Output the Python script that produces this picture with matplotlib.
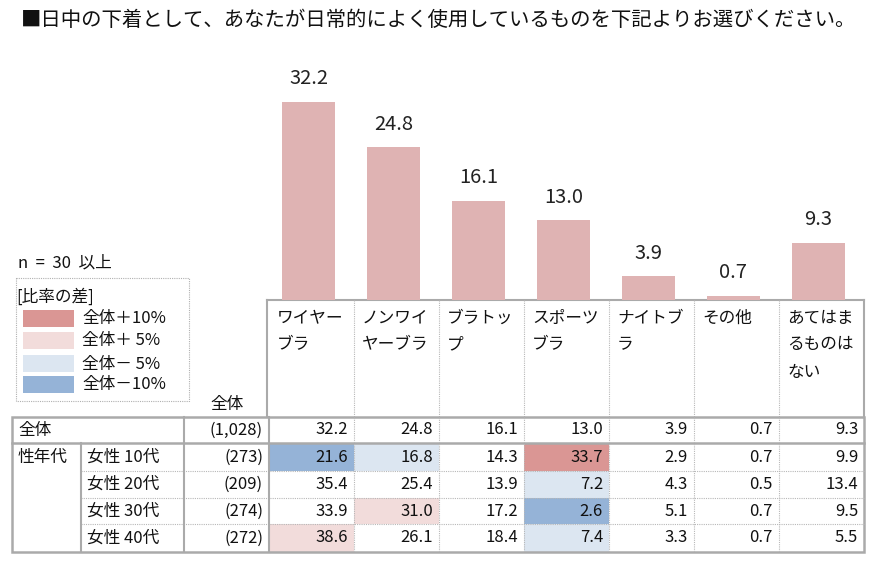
import matplotlib
matplotlib.use("Agg")
import matplotlib.pyplot as plt
from matplotlib.patches import Rectangle

plt.rcParams['font.family'] = ['Noto Sans CJK JP', 'DejaVu Sans']

# data
title = "■日中の下着として、あなたが日常的によく使用しているものを下記よりお選びください。"
categories = [["ワイヤー", "ブラ"], ["ノンワイ", "ヤーブラ"], ["ブラトッ", "プ"],
              ["スポーツ", "ブラ"], ["ナイトブ", "ラ"], ["その他"], ["あてはま", "るものは", "ない"]]
total = [32.2, 24.8, 16.1, 13.0, 3.9, 0.7, 9.3]
total_n = "(1,028)"
group_label = "性年代"
rows = ["女性 10代", "女性 20代", "女性 30代", "女性 40代"]
row_n = ["(273)", "(209)", "(274)", "(272)"]
f10 = [21.6, 16.8, 14.3, 33.7, 2.9, 0.7, 9.9]
f20 = [35.4, 25.4, 13.9, 7.2, 4.3, 0.5, 13.4]
f30 = [33.9, 31.0, 17.2, 2.6, 5.1, 0.7, 9.5]
f40 = [38.6, 26.1, 18.4, 7.4, 3.3, 0.7, 5.5]
row_values = [f10, f20, f30, f40]
legend_labels = ["全体＋10%", "全体＋ 5%", "全体－ 5%", "全体－10%"]
legend_colors = ["#da9694", "#f2dcdb", "#dce6f1", "#95b3d7"]

bar_color = "#dfb3b3"
grid_solid = "#aaaaaa"
grid_dot = "#b8b8b8"
txt = "#111111"


def diff_color(v, base):
    # colour a cell by how far it is from the total row
    d = v - base
    if d >= 10:
        return legend_colors[0]
    if d >= 5:
        return legend_colors[1]
    if d <= -10:
        return legend_colors[3]
    if d <= -5:
        return legend_colors[2]
    return None


W, H = 874, 580
fig = plt.figure(figsize=(W / 100, H / 100), dpi=100)

# overlay in pixel coords for the table
ov = fig.add_axes([0, 0, 1, 1])
ov.set_xlim(0, W)
ov.set_ylim(H, 0)
ov.axis("off")

# layout
x_left, x_sub, x_n, x_data = 12, 81, 184, 269
col_w = 85
ncol = len(total)
x_right = x_data + col_w * ncol
y_head = 300
y_top = 417
row_h = [26, 28, 27, 26, 28]
y_lines = [y_top]
for h in row_h:
    y_lines.append(y_lines[-1] + h)
fs = 12

# bar chart
px_per_unit = 6.15
ax_top = 60
bax = fig.add_axes([x_data / W, (H - y_head) / H, col_w * ncol / W, (y_head - ax_top) / H])
shift = 3 / col_w
bax.set_xlim(-0.5 + shift, ncol - 0.5 + shift)
bax.set_ylim(0, (y_head - ax_top) / px_per_unit)
bax.bar(range(ncol), total, width=0.62, color=bar_color)
for i, v in enumerate(total):
    bax.annotate(f"{v:.1f}", (i, v), xytext=(0, 9), textcoords="offset points",
                 ha="center", va="bottom", fontsize=14.5, color="#222222")
bax.axis("off")

# title
ov.text(21, 20, title, fontsize=14.7, va="center", ha="left", color=txt)

# header area
ov.plot([x_data - 2, x_right], [y_head, y_head], color=grid_solid, lw=1.5)
ov.plot([x_data - 2, x_data - 2], [y_head, y_top], color=grid_solid, lw=1.5)
ov.plot([x_right, x_right], [y_head, y_top], color=grid_solid, lw=1.5)
for j in range(1, ncol):
    xx = x_data + col_w * j
    ov.plot([xx, xx], [y_head, y_top], color=grid_dot, lw=0.8, ls=(0, (1, 1)))
for j, lines in enumerate(categories):
    for k, line in enumerate(lines):
        ov.text(x_data + col_w * j + 8, 318 + 27 * k, line, fontsize=fs,
                va="center", ha="left", color=txt)
ov.text(244, 404, "全体", fontsize=fs, ha="right", va="center", color=txt)

# highlighted cells
for r, vals in enumerate(row_values):
    for j, v in enumerate(vals):
        c = diff_color(v, total[j])
        if c:
            ov.add_patch(Rectangle((x_data + col_w * j, y_lines[r + 1]), col_w, row_h[r + 1],
                                   facecolor=c, edgecolor="none", zorder=0))

# table text
yc = [(y_lines[i] + y_lines[i + 1]) / 2 for i in range(len(row_h))]
ov.text(x_left + 6, yc[0], "全体", fontsize=fs, va="center", ha="left", color=txt)
ov.text(x_data - 6, yc[0], total_n, fontsize=fs, va="center", ha="right", color=txt)
for j, v in enumerate(total):
    ov.text(x_data + col_w * (j + 1) - 6, yc[0], f"{v:.1f}", fontsize=fs,
            va="center", ha="right", color=txt)
ov.text(x_left + 6, yc[1], group_label, fontsize=fs, va="center", ha="left", color=txt)
for r, (lab, n, vals) in enumerate(zip(rows, row_n, row_values)):
    y = yc[r + 1]
    ov.text(x_sub + 6, y, lab, fontsize=fs, va="center", ha="left", color=txt)
    ov.text(x_data - 6, y, n, fontsize=fs, va="center", ha="right", color=txt)
    for j, v in enumerate(vals):
        ov.text(x_data + col_w * (j + 1) - 6, y, f"{v:.1f}", fontsize=fs,
                va="center", ha="right", color=txt)

# table lines
y_bot = y_lines[-1]
ov.add_patch(Rectangle((x_left, y_top), x_right - x_left, y_bot - y_top,
                       fill=False, edgecolor=grid_solid, lw=1.8, zorder=3))
ov.plot([x_left, x_right], [y_lines[1], y_lines[1]], color=grid_solid, lw=1.8, zorder=3)
for yy in y_lines[2:-1]:
    ov.plot([x_sub, x_right], [yy, yy], color=grid_dot, lw=0.8, ls=(0, (1, 1)), zorder=3)
ov.plot([x_sub, x_sub], [y_lines[1], y_bot], color=grid_solid, lw=1.5, zorder=3)
ov.plot([x_n, x_n], [y_top, y_bot], color=grid_solid, lw=1.5, zorder=3)
ov.plot([x_data, x_data], [y_top, y_bot], color=grid_solid, lw=1.5, zorder=3)
for j in range(1, ncol):
    xx = x_data + col_w * j
    ov.plot([xx, xx], [y_top, y_bot], color=grid_dot, lw=0.8, ls=(0, (1, 1)), zorder=3)

# legend
ov.text(18, 263, "n  =  30  以上", fontsize=fs, va="center", ha="left", color=txt)
ov.add_patch(Rectangle((16, 278), 173, 123, fill=False, edgecolor="#b0b0b0",
                       lw=0.8, ls=(0, (1, 1))))
ov.text(16, 297, "[比率の差]", fontsize=fs, va="center", ha="left", color=txt)
sw_y = [310, 332, 355, 376]
for y, lab, c in zip(sw_y, legend_labels, legend_colors):
    ov.add_patch(Rectangle((23, y), 51, 17, facecolor=c, edgecolor="none"))
    ov.text(82, y + 9, lab, fontsize=fs, va="center", ha="left", color=txt)

fig.savefig("out.png", dpi=100)
